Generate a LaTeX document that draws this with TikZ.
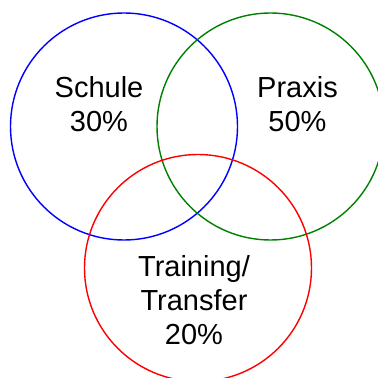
\documentclass[tikz,border=0pt]{standalone}
\usepackage{fontspec}
\setmainfont{Liberation Sans}
\begin{document}
\begin{tikzpicture}[x=1pt,y=1pt,
  ring/.style={line width=1.4pt},
  lbl/.style={align=center,inner sep=0pt,font=\fontsize{29}{34}\selectfont}]
\useasboundingbox (0,0) rectangle (378,378);
\clip (0,0) rectangle (378,378);
\draw[ring,blue] (124,251.5) circle (113.5);
\draw[ring,green!50!black] (270.5,251.5) circle (113.5);
\draw[ring,red] (198,110) circle (113.5);
\node[lbl] (schule) at (99,273.5) {Schule\\30\%};
\node[lbl] (praxis) at (297.5,273.5) {Praxis\\50\%};
\node[lbl] (training) at (194,78) {Training/\\Transfer\\20\%};
\end{tikzpicture}
\end{document}
